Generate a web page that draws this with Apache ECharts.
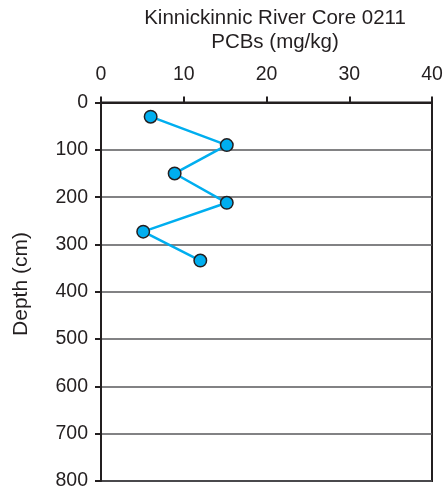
<!DOCTYPE html>
<html><head><meta charset="utf-8">
<script src="https://cdn.jsdelivr.net/npm/echarts@6/dist/echarts.min.js"></script>
<style>html,body{margin:0;padding:0;background:#fff}#c{width:447px;height:492px}</style>
</head><body><div id="c"></div>
<script>
const titleLines = ["Kinnickinnic River Core 0211", "PCBs (mg/kg)"];
const yName = "Depth (cm)";
const pcb = [6, 15.2, 8.9, 15.2, 5.1, 12.0];
const depth = [30, 90, 150, 212, 273, 334];
const xTicks = [0, 10, 20, 30, 40];
const yTicks = [0, 100, 200, 300, 400, 500, 600, 700, 800];

const font = "'Liberation Sans', Arial, sans-serif";
const ink = '#231f20';
const chart = echarts.init(document.getElementById('c'));
chart.setOption({
  animation: false,
  title: {
    text: titleLines.join('\n'), left: 270, top: 1, textAlign: 'center',
    textStyle: {fontFamily: font, fontSize: 20.5, fontWeight: 'normal', color: ink, lineHeight: 24}
  },
  graphic: [{
    type: 'text', x: 21.5, y: 284, rotation: Math.PI / 2,
    style: {text: yName, fontFamily: font, fontSize: 21, fill: ink, align: 'center', verticalAlign: 'middle'}
  }],
  grid: {left: 101, right: 15, top: 102.5, bottom: 11, show: true, borderColor: ink, borderWidth: 2, backgroundColor: 'transparent'},
  xAxis: {
    type: 'value', position: 'top', min: xTicks[0], max: xTicks[xTicks.length - 1], interval: 10,
    axisLine: {show: true, lineStyle: {color: ink, width: 2}},
    axisTick: {show: true, length: 6, lineStyle: {color: ink, width: 2}},
    axisLabel: {fontFamily: font, fontSize: 19.5, color: ink, margin: 18},
    splitLine: {show: false}
  },
  yAxis: {
    type: 'value', inverse: true, min: yTicks[0], max: yTicks[yTicks.length - 1], interval: 100,
    axisLine: {show: true, lineStyle: {color: ink, width: 2}},
    axisTick: {show: true, length: 6, lineStyle: {color: ink, width: 2}},
    axisLabel: {fontFamily: font, fontSize: 19.5, color: ink, margin: 13},
    splitLine: {show: true, lineStyle: {color: '#58595b', width: 1.5}}
  },
  series: [{
    type: 'line', data: pcb.map((v, i) => [v, depth[i]]),
    symbol: 'circle', symbolSize: 12.5,
    lineStyle: {color: '#00aeef', width: 2.5},
    itemStyle: {color: '#00aeef', borderColor: ink, borderWidth: 1.5}
  }]
});
</script></body></html>
